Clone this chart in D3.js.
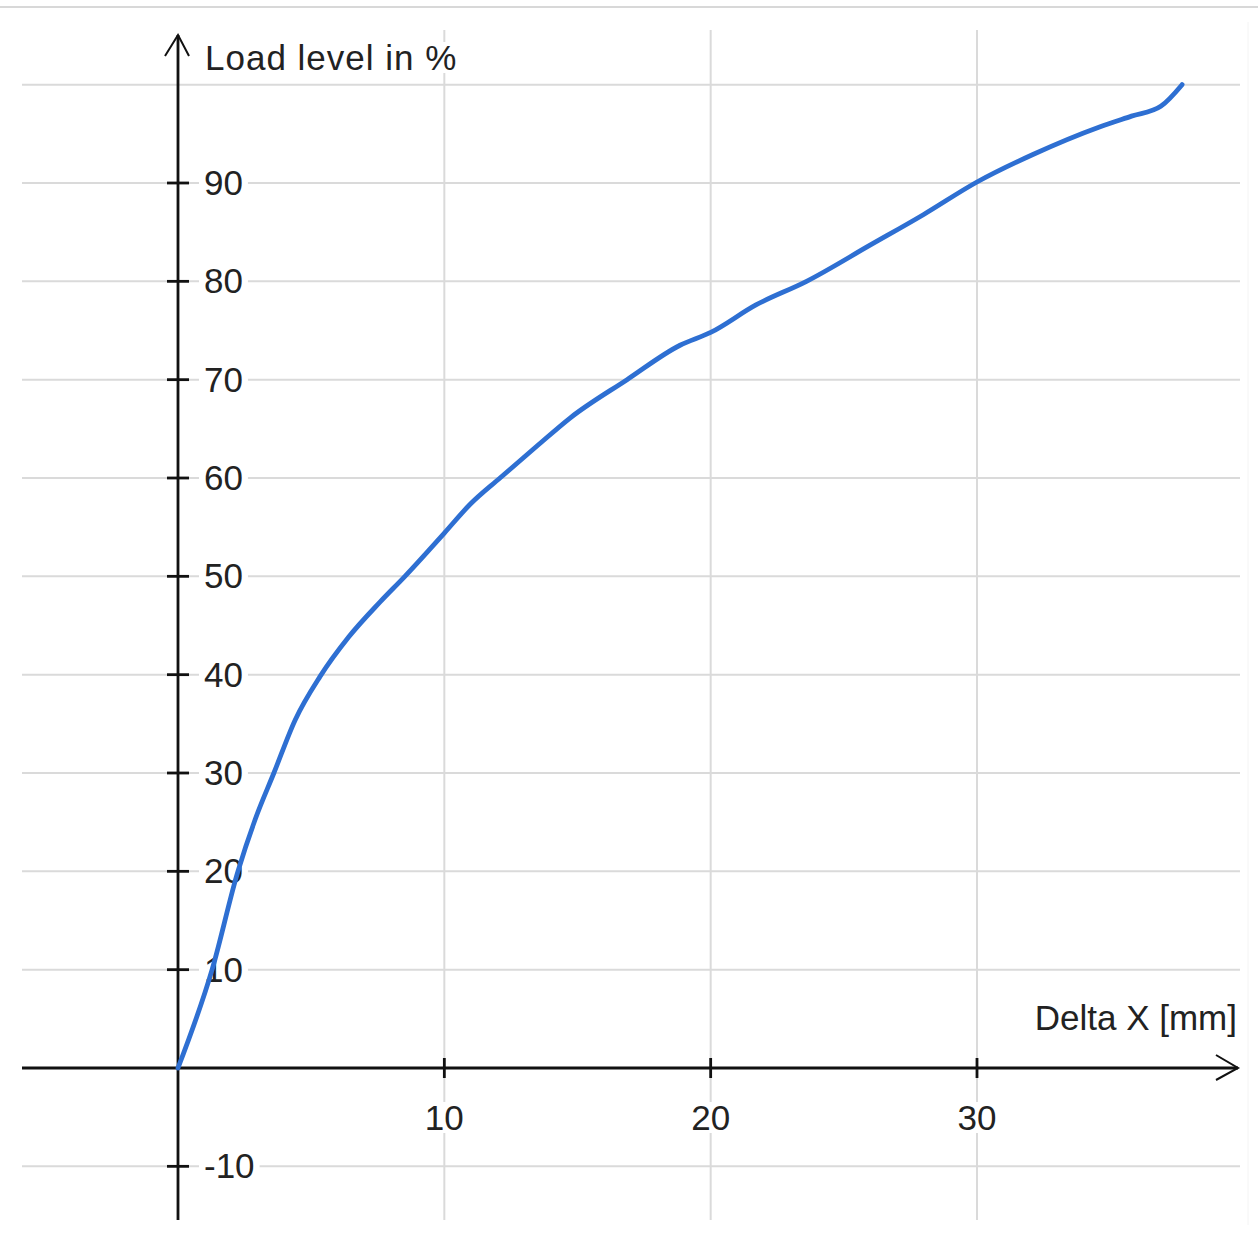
<!DOCTYPE html>
<html>
<head>
<meta charset="utf-8">
<script src="https://cdn.jsdelivr.net/npm/d3@7"></script>
<style>
  html, body { margin: 0; padding: 0; background: #fff; }
  svg { display: block; }
  text { font-family: "Liberation Sans", Arial, sans-serif; fill: #222; }
</style>
</head>
<body>
<svg id="chart" width="1258" height="1235"></svg>
<script>
// ---- data ----
const deltaX = [0, 1.28, 2.25, 2.9, 3.6, 4.4, 5.33, 6.4, 7.59, 8.52, 10, 10.96, 12.09, 13.5, 14.72, 16.86, 18.85, 20, 21.7, 23.6, 26, 28, 30, 32.1, 34.6, 35.8, 36.9, 37.7];
const loadLevel = [0, 10, 20, 25.3, 30, 35.4, 39.8, 43.8, 47.4, 50, 54.4, 57.3, 60, 63.3, 66.1, 70, 73.5, 74.8, 77.6, 80, 83.7, 86.8, 90.1, 92.9, 95.7, 96.8, 97.8, 100];
const xTicks = [10, 20, 30];
const yTicks = [-10, 10, 20, 30, 40, 50, 60, 70, 80, 90, 100];
const yTickLabels = ["-10", "10", "20", "30", "40", "50", "60", "70", "80", "90", ""];
const xTitle = "Delta X [mm]";
const yTitle = "Load level in %";

// ---- scales ----
const x = d3.scaleLinear().domain([0, 30]).range([178, 977]);
const y = d3.scaleLinear().domain([0, 90]).range([1068, 183]);

const svg = d3.select("#chart");
const gridColor = "#dadada";

// top border
svg.append("line").attr("x1", 0).attr("x2", 1258).attr("y1", 7).attr("y2", 7)
  .attr("stroke", "#d8d8d8").attr("stroke-width", 2);
svg.append("line").attr("x1", 1248).attr("x2", 1248).attr("y1", 22).attr("y2", 1225)
  .attr("stroke", "#f4f4f4").attr("stroke-width", 1);

// gridlines
const grid = svg.append("g");
grid.selectAll("line.h").data(yTicks).join("line")
  .attr("x1", 22).attr("x2", 1240)
  .attr("y1", d => y(d)).attr("y2", d => y(d))
  .attr("stroke", gridColor).attr("stroke-width", 2);
grid.selectAll("line.v").data(xTicks).join("line")
  .attr("x1", d => x(d)).attr("x2", d => x(d))
  .attr("y1", 30).attr("y2", 1220)
  .attr("stroke", gridColor).attr("stroke-width", 2);

// axes lines
const axisG = svg.append("g").attr("stroke", "#111").attr("stroke-width", 2.8).attr("fill", "none");
axisG.append("line").attr("x1", 22).attr("x2", 1238).attr("y1", y(0)).attr("y2", y(0));
axisG.append("line").attr("x1", x(0)).attr("x2", x(0)).attr("y1", 35).attr("y2", 1220);
// arrowheads
axisG.append("path").attr("d", `M${x(0)-13},56 L${x(0)},35 L${x(0)+11},56`).attr("stroke-width", 2);
axisG.append("path").attr("d", `M1216,${y(0)-13} L1238,${y(0)} L1216,${y(0)+12}`).attr("stroke-width", 2);

// ticks
axisG.selectAll("line.yt").data(yTicks.filter(d => d !== 100)).join("line")
  .attr("x1", x(0) - 11).attr("x2", x(0) + 11)
  .attr("y1", d => y(d)).attr("y2", d => y(d));
axisG.selectAll("line.xt").data(xTicks).join("line")
  .attr("x1", d => x(d)).attr("x2", d => x(d))
  .attr("y1", y(0) - 10).attr("y2", y(0) + 10);

// labels with white backgrounds
const fs = 35;
function labelWithBg(g, txt, px, py, anchor, ls) {
  const t = g.append("text").attr("x", px).attr("y", py)
    .attr("text-anchor", anchor).attr("font-size", fs)
    .attr("letter-spacing", ls || 0).text(txt);
  const bb = t.node().getBBox();
  g.insert("rect", "text").attr("x", bb.x - 5).attr("y", bb.y + 4)
    .attr("width", bb.width + 10).attr("height", bb.height - 8).attr("fill", "#fff");
}
const labels = svg.append("g");
yTicks.forEach((d, i) => {
  if (!yTickLabels[i]) return;
  const g = labels.append("g");
  labelWithBg(g, yTickLabels[i], 204, y(d) + 12, "start");
});
xTicks.forEach(d => {
  const g = labels.append("g");
  labelWithBg(g, String(d), x(d), 1130, "middle");
});
labelWithBg(labels.append("g"), yTitle, 205, 70, "start", 1);
labelWithBg(labels.append("g"), xTitle, 1237, 1030, "end");

// curve
const line = d3.line()
  .x((d, i) => x(deltaX[i]))
  .y(d => y(d))
  .curve(d3.curveMonotoneX);
svg.append("path").datum(loadLevel)
  .attr("d", line)
  .attr("fill", "none")
  .attr("stroke", "#2e6fd2")
  .attr("stroke-width", 4.8)
  .attr("stroke-linejoin", "round")
  .attr("stroke-linecap", "round");
</script>
</body>
</html>
